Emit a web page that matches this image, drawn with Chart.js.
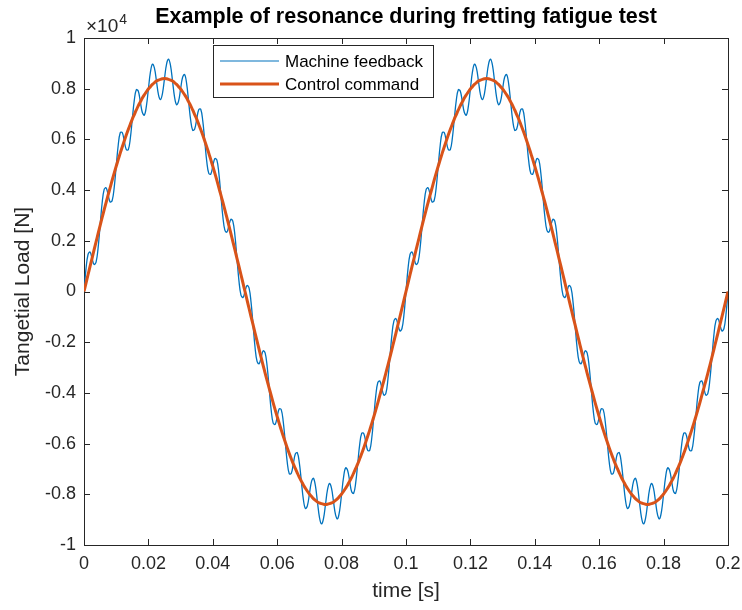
<!DOCTYPE html>
<html>
<head>
<meta charset="utf-8">
<script src="https://cdn.jsdelivr.net/npm/chart.js@4.4.1/dist/chart.umd.min.js"></script>
<style>
  html, body { margin: 0; padding: 0; background: #fff; }
</style>
</head>
<body>
<canvas id="resonanceChart" width="742" height="610"></canvas>
<script>
// time samples in milliseconds (0 .. 200 ms)
const timeMs = [
  0, 0.625, 1.25, 1.875, 2.5, 3.125, 3.75, 4.375,
  5, 5.625, 6.25, 6.875, 7.5, 8.125, 8.75, 9.375,
  10, 10.625, 11.25, 11.875, 12.5, 13.125, 13.75, 14.375,
  15, 15.625, 16.25, 16.875, 17.5, 18.125, 18.75, 19.375,
  20, 20.625, 21.25, 21.875, 22.5, 23.125, 23.75, 24.375,
  25, 25.625, 26.25, 26.875, 27.5, 28.125, 28.75, 29.375,
  30, 30.625, 31.25, 31.875, 32.5, 33.125, 33.75, 34.375,
  35, 35.625, 36.25, 36.875, 37.5, 38.125, 38.75, 39.375,
  40, 40.625, 41.25, 41.875, 42.5, 43.125, 43.75, 44.375,
  45, 45.625, 46.25, 46.875, 47.5, 48.125, 48.75, 49.375,
  50, 50.625, 51.25, 51.875, 52.5, 53.125, 53.75, 54.375,
  55, 55.625, 56.25, 56.875, 57.5, 58.125, 58.75, 59.375,
  60, 60.625, 61.25, 61.875, 62.5, 63.125, 63.75, 64.375,
  65, 65.625, 66.25, 66.875, 67.5, 68.125, 68.75, 69.375,
  70, 70.625, 71.25, 71.875, 72.5, 73.125, 73.75, 74.375,
  75, 75.625, 76.25, 76.875, 77.5, 78.125, 78.75, 79.375,
  80, 80.625, 81.25, 81.875, 82.5, 83.125, 83.75, 84.375,
  85, 85.625, 86.25, 86.875, 87.5, 88.125, 88.75, 89.375,
  90, 90.625, 91.25, 91.875, 92.5, 93.125, 93.75, 94.375,
  95, 95.625, 96.25, 96.875, 97.5, 98.125, 98.75, 99.375,
  100, 100.625, 101.25, 101.875, 102.5, 103.125, 103.75, 104.375,
  105, 105.625, 106.25, 106.875, 107.5, 108.125, 108.75, 109.375,
  110, 110.625, 111.25, 111.875, 112.5, 113.125, 113.75, 114.375,
  115, 115.625, 116.25, 116.875, 117.5, 118.125, 118.75, 119.375,
  120, 120.625, 121.25, 121.875, 122.5, 123.125, 123.75, 124.375,
  125, 125.625, 126.25, 126.875, 127.5, 128.125, 128.75, 129.375,
  130, 130.625, 131.25, 131.875, 132.5, 133.125, 133.75, 134.375,
  135, 135.625, 136.25, 136.875, 137.5, 138.125, 138.75, 139.375,
  140, 140.625, 141.25, 141.875, 142.5, 143.125, 143.75, 144.375,
  145, 145.625, 146.25, 146.875, 147.5, 148.125, 148.75, 149.375,
  150, 150.625, 151.25, 151.875, 152.5, 153.125, 153.75, 154.375,
  155, 155.625, 156.25, 156.875, 157.5, 158.125, 158.75, 159.375,
  160, 160.625, 161.25, 161.875, 162.5, 163.125, 163.75, 164.375,
  165, 165.625, 166.25, 166.875, 167.5, 168.125, 168.75, 169.375,
  170, 170.625, 171.25, 171.875, 172.5, 173.125, 173.75, 174.375,
  175, 175.625, 176.25, 176.875, 177.5, 178.125, 178.75, 179.375,
  180, 180.625, 181.25, 181.875, 182.5, 183.125, 183.75, 184.375,
  185, 185.625, 186.25, 186.875, 187.5, 188.125, 188.75, 189.375,
  190, 190.625, 191.25, 191.875, 192.5, 193.125, 193.75, 194.375,
  195, 195.625, 196.25, 196.875, 197.5, 198.125, 198.75, 199.375,
  200
];

// Tangential load [N]
const machineFeedback = [
  0, 900, 1460, 1560, 1310, 1070, 1160, 1710,
  2600, 3480, 4020, 4090, 3810, 3530, 3590, 4100,
  4940, 5770, 6260, 6270, 5940, 5600, 5590, 6030,
  6800, 7550, 7960, 7900, 7480, 7060, 6960, 7310,
  7990, 8650, 8970, 8810, 8300, 7770, 7570, 7820,
  8400, 8960, 9170, 8910, 8300, 7670, 7370, 7510,
  7990, 8450, 8560, 8200, 7480, 6760, 6360, 6410,
  6800, 7170, 7190, 6740, 5940, 5130, 4660, 4630,
  4940, 5240, 5190, 4670, 3810, 2950, 2420, 2340,
  2600, 2850, 2760, 2210, 1310, 420, -140, -240,
  0, 240, 140, -420, -1310, -2210, -2760, -2850,
  -2600, -2340, -2420, -2950, -3810, -4670, -5190, -5240,
  -4940, -4630, -4660, -5130, -5940, -6740, -7190, -7170,
  -6800, -6410, -6360, -6760, -7480, -8200, -8560, -8450,
  -7990, -7510, -7370, -7670, -8300, -8910, -9170, -8960,
  -8400, -7820, -7570, -7770, -8300, -8810, -8970, -8650,
  -7990, -7310, -6960, -7060, -7480, -7900, -7960, -7550,
  -6800, -6030, -5590, -5600, -5940, -6270, -6260, -5770,
  -4940, -4100, -3590, -3530, -3810, -4090, -4020, -3480,
  -2600, -1710, -1160, -1070, -1310, -1560, -1460, -900,
  0, 900, 1460, 1560, 1310, 1070, 1160, 1710,
  2600, 3480, 4020, 4090, 3810, 3530, 3590, 4100,
  4940, 5770, 6260, 6270, 5940, 5600, 5590, 6030,
  6800, 7550, 7960, 7900, 7480, 7060, 6960, 7310,
  7990, 8650, 8970, 8810, 8300, 7770, 7570, 7820,
  8400, 8960, 9170, 8910, 8300, 7670, 7370, 7510,
  7990, 8450, 8560, 8200, 7480, 6760, 6360, 6410,
  6800, 7170, 7190, 6740, 5940, 5130, 4660, 4630,
  4940, 5240, 5190, 4670, 3810, 2950, 2420, 2340,
  2600, 2850, 2760, 2210, 1310, 420, -140, -240,
  0, 240, 140, -420, -1310, -2210, -2760, -2850,
  -2600, -2340, -2420, -2950, -3810, -4670, -5190, -5240,
  -4940, -4630, -4660, -5130, -5940, -6740, -7190, -7170,
  -6800, -6410, -6360, -6760, -7480, -8200, -8560, -8450,
  -7990, -7510, -7370, -7670, -8300, -8910, -9170, -8960,
  -8400, -7820, -7570, -7770, -8300, -8810, -8970, -8650,
  -7990, -7310, -6960, -7060, -7480, -7900, -7960, -7550,
  -6800, -6030, -5590, -5600, -5940, -6270, -6260, -5770,
  -4940, -4100, -3590, -3530, -3810, -4090, -4020, -3480,
  -2600, -1710, -1160, -1070, -1310, -1560, -1460, -900,
  0
];

const controlCommand = [
  0, 330, 660, 990, 1310, 1640, 1960, 2280,
  2600, 2910, 3220, 3520, 3810, 4100, 4390, 4670,
  4940, 5200, 5460, 5700, 5940, 6170, 6390, 6600,
  6800, 6980, 7160, 7330, 7480, 7630, 7760, 7880,
  7990, 8080, 8170, 8240, 8300, 8340, 8370, 8390,
  8400, 8390, 8370, 8340, 8300, 8240, 8170, 8080,
  7990, 7880, 7760, 7630, 7480, 7330, 7160, 6980,
  6800, 6600, 6390, 6170, 5940, 5700, 5460, 5200,
  4940, 4670, 4390, 4100, 3810, 3520, 3220, 2910,
  2600, 2280, 1960, 1640, 1310, 990, 660, 330,
  0, -330, -660, -990, -1310, -1640, -1960, -2280,
  -2600, -2910, -3220, -3520, -3810, -4100, -4390, -4670,
  -4940, -5200, -5460, -5700, -5940, -6170, -6390, -6600,
  -6800, -6980, -7160, -7330, -7480, -7630, -7760, -7880,
  -7990, -8080, -8170, -8240, -8300, -8340, -8370, -8390,
  -8400, -8390, -8370, -8340, -8300, -8240, -8170, -8080,
  -7990, -7880, -7760, -7630, -7480, -7330, -7160, -6980,
  -6800, -6600, -6390, -6170, -5940, -5700, -5460, -5200,
  -4940, -4670, -4390, -4100, -3810, -3520, -3220, -2910,
  -2600, -2280, -1960, -1640, -1310, -990, -660, -330,
  0, 330, 660, 990, 1310, 1640, 1960, 2280,
  2600, 2910, 3220, 3520, 3810, 4100, 4390, 4670,
  4940, 5200, 5460, 5700, 5940, 6170, 6390, 6600,
  6800, 6980, 7160, 7330, 7480, 7630, 7760, 7880,
  7990, 8080, 8170, 8240, 8300, 8340, 8370, 8390,
  8400, 8390, 8370, 8340, 8300, 8240, 8170, 8080,
  7990, 7880, 7760, 7630, 7480, 7330, 7160, 6980,
  6800, 6600, 6390, 6170, 5940, 5700, 5460, 5200,
  4940, 4670, 4390, 4100, 3810, 3520, 3220, 2910,
  2600, 2280, 1960, 1640, 1310, 990, 660, 330,
  0, -330, -660, -990, -1310, -1640, -1960, -2280,
  -2600, -2910, -3220, -3520, -3810, -4100, -4390, -4670,
  -4940, -5200, -5460, -5700, -5940, -6170, -6390, -6600,
  -6800, -6980, -7160, -7330, -7480, -7630, -7760, -7880,
  -7990, -8080, -8170, -8240, -8300, -8340, -8370, -8390,
  -8400, -8390, -8370, -8340, -8300, -8240, -8170, -8080,
  -7990, -7880, -7760, -7630, -7480, -7330, -7160, -6980,
  -6800, -6600, -6390, -6170, -5940, -5700, -5460, -5200,
  -4940, -4670, -4390, -4100, -3810, -3520, -3220, -2910,
  -2600, -2280, -1960, -1640, -1310, -990, -660, -330,
  0
];

const seriesNames = ["Machine feedback", "Control command"];
const seriesColors = ["#0072BD", "#D95319"];
const chartTitle = "Example of resonance during fretting fatigue test";

const FONT = "'Liberation Sans', Arial, Helvetica, sans-serif";
const AXIS_COLOR = "#262626";

const toPoints = (values) => values.map((v, i) => ({ x: timeMs[i] / 1000, y: v }));

// MATLAB-like box, inward ticks, title, legend and the x10^4 multiplier
const matlabAxes = {
    id: "matlabAxes",
    beforeDatasetsDraw(chart) {
        const { ctx, chartArea: a, scales: { x, y } } = chart;
        const len = 6;
        ctx.save();
        ctx.strokeStyle = AXIS_COLOR;
        ctx.lineWidth = 1;
        ctx.beginPath();
        x.ticks.forEach(t => {
            const px = Math.round(x.getPixelForValue(t.value)) + 0.5;
            ctx.moveTo(px, a.bottom); ctx.lineTo(px, a.bottom - len);
            ctx.moveTo(px, a.top); ctx.lineTo(px, a.top + len);
        });
        y.ticks.forEach(t => {
            const py = Math.round(y.getPixelForValue(t.value)) + 0.5;
            ctx.moveTo(a.left, py); ctx.lineTo(a.left + len, py);
            ctx.moveTo(a.right, py); ctx.lineTo(a.right - len, py);
        });
        ctx.stroke();
        ctx.strokeRect(Math.round(a.left) + 0.5, Math.round(a.top) + 0.5,
            Math.round(a.right - a.left), Math.round(a.bottom - a.top));
        ctx.restore();
    },
    afterDraw(chart) {
        const { ctx, chartArea: a } = chart;
        ctx.save();
        // title, centred over the axes
        ctx.fillStyle = "#000";
        ctx.font = "bold 21.5px " + FONT;
        ctx.textAlign = "center";
        ctx.textBaseline = "middle";
        ctx.fillText(chartTitle, (a.left + a.right) / 2, 17);

        // exponent label
        ctx.fillStyle = AXIS_COLOR;
        ctx.textBaseline = "alphabetic";
        ctx.textAlign = "left";
        ctx.font = "19px " + FONT;
        const base = "\u00D710";
        ctx.fillText(base, a.left + 2, 32);
        const w = ctx.measureText(base).width;
        ctx.font = "14px " + FONT;
        ctx.fillText("4", a.left + 3 + w, 24);

        // legend
        const lx = 213.5, ly = 45.5, lw = 220, lh = 52;
        ctx.fillStyle = "#fff";
        ctx.fillRect(lx, ly, lw, lh);
        ctx.strokeStyle = AXIS_COLOR;
        ctx.lineWidth = 1;
        ctx.strokeRect(lx, ly, lw, lh);
        const rows = [61, 84];
        const widths = [1.2, 3];
        ctx.font = "17px " + FONT;
        ctx.textBaseline = "middle";
        seriesNames.forEach((name, i) => {
            ctx.strokeStyle = seriesColors[i];
            ctx.lineWidth = widths[i];
            ctx.beginPath();
            ctx.moveTo(220, rows[i]);
            ctx.lineTo(279, rows[i]);
            ctx.stroke();
            ctx.fillStyle = "#000";
            ctx.fillText(name, 285, rows[i] + 1);
        });
        ctx.restore();
    }
};

const ctx = document.getElementById("resonanceChart").getContext("2d");
new Chart(ctx, {
    type: "line",
    data: {
        datasets: [{
            label: seriesNames[0],
            data: toPoints(machineFeedback),
            borderColor: seriesColors[0],
            backgroundColor: "transparent",
            borderWidth: 1.3,
            pointRadius: 0,
            tension: 0.4,
            order: 2
        }, {
            label: seriesNames[1],
            data: toPoints(controlCommand),
            borderColor: seriesColors[1],
            backgroundColor: "transparent",
            borderWidth: 3,
            pointRadius: 0,
            tension: 0.4,
            order: 1
        }]
    },
    options: {
        responsive: false,
        animation: false,
        layout: { padding: { top: 38, right: 0, bottom: 0, left: 0 } },
        plugins: {
            legend: { display: false },
            tooltip: { enabled: false },
            title: { display: false }
        },
        scales: {
            x: {
                type: "linear",
                min: 0,
                max: 0.2,
                grid: { display: false, drawTicks: false },
                border: { display: false },
                ticks: {
                    stepSize: 0.02,
                    padding: 8,
                    color: AXIS_COLOR,
                    font: { family: FONT, size: 18 },
                    maxRotation: 0,
                    autoSkip: false,
                    callback: v => String(+v.toFixed(2))
                },
                title: {
                    display: true,
                    text: "time [s]",
                    color: AXIS_COLOR,
                    font: { family: FONT, size: 21 },
                    padding: { top: 0, bottom: 6 }
                },
                afterFit: scale => {
                    scale.height = 65;
                    scale.paddingLeft = 0;
                    scale.paddingRight = 14;
                }
            },
            y: {
                min: -10000,
                max: 10000,
                grid: { display: false, drawTicks: false },
                border: { display: false },
                ticks: {
                    stepSize: 2000,
                    padding: 8,
                    color: AXIS_COLOR,
                    font: { family: FONT, size: 18 },
                    callback: v => String(+(v / 1e4).toFixed(1))
                },
                title: {
                    display: true,
                    text: "Tangetial Load [N]",
                    color: AXIS_COLOR,
                    font: { family: FONT, size: 21 },
                    padding: { top: 11, bottom: 0 }
                },
                afterFit: scale => { scale.width = 84; }
            }
        }
    },
    plugins: [matlabAxes]
});
</script>
</body>
</html>
